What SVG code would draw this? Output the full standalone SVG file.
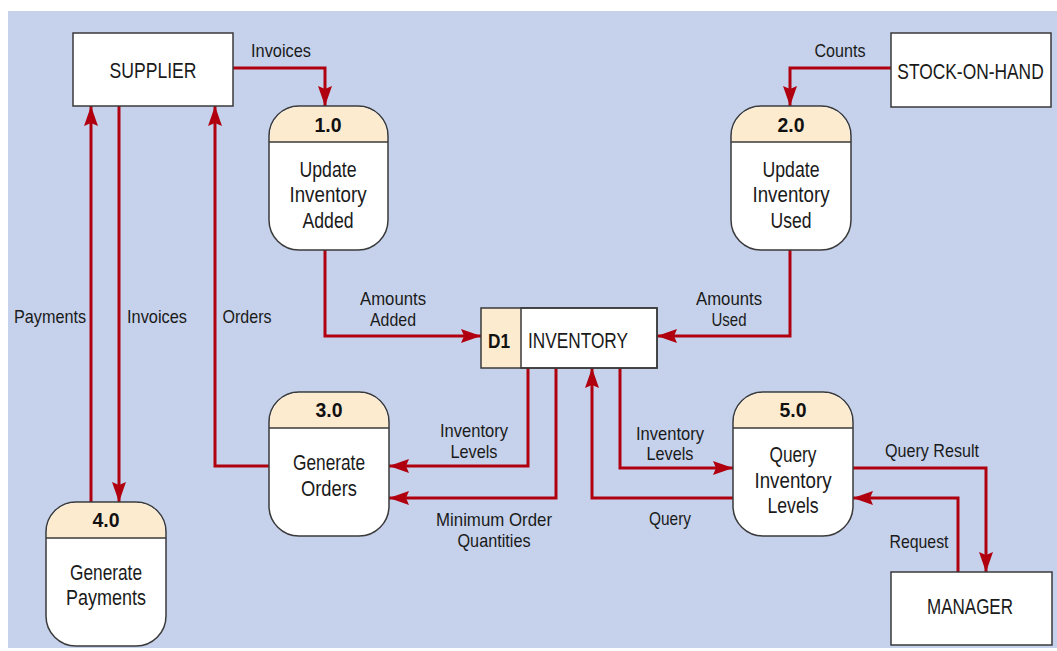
<svg xmlns="http://www.w3.org/2000/svg" width="1057" height="651" viewBox="0 0 1057 651">
<style>
.bg{fill:#C6D2EB}
.ent{fill:#fff;stroke:#3a3a3a;stroke-width:1.5}
.body{fill:#fff;stroke:#3a3a3a;stroke-width:1.5}
.hdr{fill:#FDEBD0}
.div{stroke:#3a3a3a;stroke-width:1.5}
text{font-family:"Liberation Sans",Arial,sans-serif;fill:#1a1a1a;text-anchor:middle}
.t{font-size:22px}
.n{font-size:20px;font-weight:bold;fill:#111}
.l{font-size:19px}
.c{fill:none;stroke:#B0000F;stroke-width:3;marker-end:url(#ah)}
</style>
<defs>
<marker id="ah" markerUnits="userSpaceOnUse" markerWidth="20" markerHeight="14" refX="20" refY="7" orient="auto">
<path d="M0,0 L20,7 L0,14 L3,7 Z" fill="#B0000F"/>
</marker>
</defs>
<rect class="bg" x="8" y="11" width="1049" height="637"/>

<g id="connectors">
<path class="c" d="M233,68 H325 V106"/>
<path class="c" d="M891,68 H790 V106"/>
<path class="c" d="M325,250 V336 H481"/>
<path class="c" d="M790,250 V336 H657"/>
<path class="c" d="M269,466 H215 V106"/>
<path class="c" d="M91,502 V106"/>
<path class="c" d="M119,106 V502"/>
<path class="c" d="M528,368 V466 H389"/>
<path class="c" d="M556,368 V498 H389"/>
<path class="c" d="M733,498 H592 V368"/>
<path class="c" d="M620,368 V468 H733"/>
<path class="c" d="M853,468 H986 V572"/>
<path class="c" d="M958,572 V498 H853"/>
</g>

<g id="labels">
<text class="l" x="281" y="57" textLength="60" lengthAdjust="spacingAndGlyphs">Invoices</text>
<text class="l" x="840" y="57" textLength="51" lengthAdjust="spacingAndGlyphs">Counts</text>
<text class="l" x="50" y="323" textLength="72" lengthAdjust="spacingAndGlyphs">Payments</text>
<text class="l" x="157" y="323" textLength="60" lengthAdjust="spacingAndGlyphs">Invoices</text>
<text class="l" x="247" y="323" textLength="49" lengthAdjust="spacingAndGlyphs">Orders</text>
<text class="l" x="393" y="305" textLength="66" lengthAdjust="spacingAndGlyphs">Amounts</text>
<text class="l" x="393" y="326" textLength="46" lengthAdjust="spacingAndGlyphs">Added</text>
<text class="l" x="729" y="305" textLength="66" lengthAdjust="spacingAndGlyphs">Amounts</text>
<text class="l" x="729" y="326" textLength="35" lengthAdjust="spacingAndGlyphs">Used</text>
<text class="l" x="474" y="437" textLength="68" lengthAdjust="spacingAndGlyphs">Inventory</text>
<text class="l" x="474" y="458" textLength="47" lengthAdjust="spacingAndGlyphs">Levels</text>
<text class="l" x="494" y="526" textLength="116" lengthAdjust="spacingAndGlyphs">Minimum Order</text>
<text class="l" x="494" y="547" textLength="73" lengthAdjust="spacingAndGlyphs">Quantities</text>
<text class="l" x="670" y="440" textLength="68" lengthAdjust="spacingAndGlyphs">Inventory</text>
<text class="l" x="670" y="460" textLength="47" lengthAdjust="spacingAndGlyphs">Levels</text>
<text class="l" x="670" y="525" textLength="42" lengthAdjust="spacingAndGlyphs">Query</text>
<text class="l" x="932" y="457" textLength="94" lengthAdjust="spacingAndGlyphs">Query Result</text>
<text class="l" x="919" y="548" textLength="59" lengthAdjust="spacingAndGlyphs">Request</text>
</g>

<g id="supplier">
<rect class="ent" x="73" y="33" width="160" height="73"/>
<text class="t" x="153" y="78" textLength="87" lengthAdjust="spacingAndGlyphs">SUPPLIER</text>
</g>
<g id="stock-on-hand">
<rect class="ent" x="891" y="33" width="160" height="74"/>
<g transform="translate(970.5 79) scale(0.79 1)">
<text class="t" x="0" y="0">STOCK-ON-HAND</text>
</g>
</g>
<g id="manager">
<rect class="ent" x="891" y="572" width="161" height="73"/>
<text class="t" x="970" y="614" textLength="86" lengthAdjust="spacingAndGlyphs">MANAGER</text>
</g>

<g id="p1">
<rect class="body" x="269" y="106" width="119" height="144" rx="30"/>
<path class="hdr" d="M270,142 V136 A29,29 0 0 1 299,107 H358 A29,29 0 0 1 387,136 V142 Z"/>
<line class="div" x1="269" y1="142" x2="388" y2="142"/>
<text class="n" x="328" y="132" textLength="27" lengthAdjust="spacingAndGlyphs">1.0</text>
<text class="t" x="328" y="177" textLength="57" lengthAdjust="spacingAndGlyphs">Update</text>
<text class="t" x="328" y="202" textLength="77" lengthAdjust="spacingAndGlyphs">Inventory</text>
<text class="t" x="328" y="228" textLength="51" lengthAdjust="spacingAndGlyphs">Added</text>
</g>
<g id="p2">
<rect class="body" x="731" y="106" width="120" height="144" rx="30"/>
<path class="hdr" d="M732,142 V136 A29,29 0 0 1 761,107 H821 A29,29 0 0 1 850,136 V142 Z"/>
<line class="div" x1="731" y1="142" x2="851" y2="142"/>
<text class="n" x="791" y="132" textLength="27" lengthAdjust="spacingAndGlyphs">2.0</text>
<text class="t" x="791" y="177" textLength="57" lengthAdjust="spacingAndGlyphs">Update</text>
<text class="t" x="791" y="202" textLength="77" lengthAdjust="spacingAndGlyphs">Inventory</text>
<text class="t" x="791" y="228" textLength="41" lengthAdjust="spacingAndGlyphs">Used</text>
</g>
<g id="p3">
<rect class="body" x="269" y="392" width="120" height="144" rx="30"/>
<path class="hdr" d="M270,428 V422 A29,29 0 0 1 299,393 H359 A29,29 0 0 1 388,422 V428 Z"/>
<line class="div" x1="269" y1="428" x2="389" y2="428"/>
<text class="n" x="329" y="417" textLength="27" lengthAdjust="spacingAndGlyphs">3.0</text>
<text class="t" x="329" y="470" textLength="72" lengthAdjust="spacingAndGlyphs">Generate</text>
<text class="t" x="329" y="496" textLength="56" lengthAdjust="spacingAndGlyphs">Orders</text>
</g>
<g id="p5">
<rect class="body" x="733" y="392" width="120" height="144" rx="30"/>
<path class="hdr" d="M734,428 V422 A29,29 0 0 1 763,393 H823 A29,29 0 0 1 852,422 V428 Z"/>
<line class="div" x1="733" y1="428" x2="853" y2="428"/>
<text class="n" x="793" y="417" textLength="27" lengthAdjust="spacingAndGlyphs">5.0</text>
<text class="t" x="793" y="462" textLength="47" lengthAdjust="spacingAndGlyphs">Query</text>
<text class="t" x="793" y="488" textLength="77" lengthAdjust="spacingAndGlyphs">Inventory</text>
<text class="t" x="793" y="513" textLength="51" lengthAdjust="spacingAndGlyphs">Levels</text>
</g>
<g id="p4">
<rect class="body" x="46" y="502" width="120" height="144" rx="30"/>
<path class="hdr" d="M47,538 V532 A29,29 0 0 1 76,503 H136 A29,29 0 0 1 165,532 V538 Z"/>
<line class="div" x1="46" y1="538" x2="166" y2="538"/>
<text class="n" x="106" y="527" textLength="27" lengthAdjust="spacingAndGlyphs">4.0</text>
<text class="t" x="106" y="580" textLength="72" lengthAdjust="spacingAndGlyphs">Generate</text>
<text class="t" x="106" y="605" textLength="80" lengthAdjust="spacingAndGlyphs">Payments</text>
</g>

<g id="d1">
<rect x="481" y="308" width="40" height="60" class="hdr"/>
<rect class="ent" x="521" y="308" width="136" height="60"/>
<rect x="481" y="308" width="176" height="60" fill="none" stroke="#3a3a3a" stroke-width="1.5"/>
<text class="n" x="499" y="348" textLength="22" lengthAdjust="spacingAndGlyphs">D1</text>
<text class="t" x="528" y="348" style="text-anchor:start" textLength="100" lengthAdjust="spacingAndGlyphs">INVENTORY</text>
</g>
</svg>
